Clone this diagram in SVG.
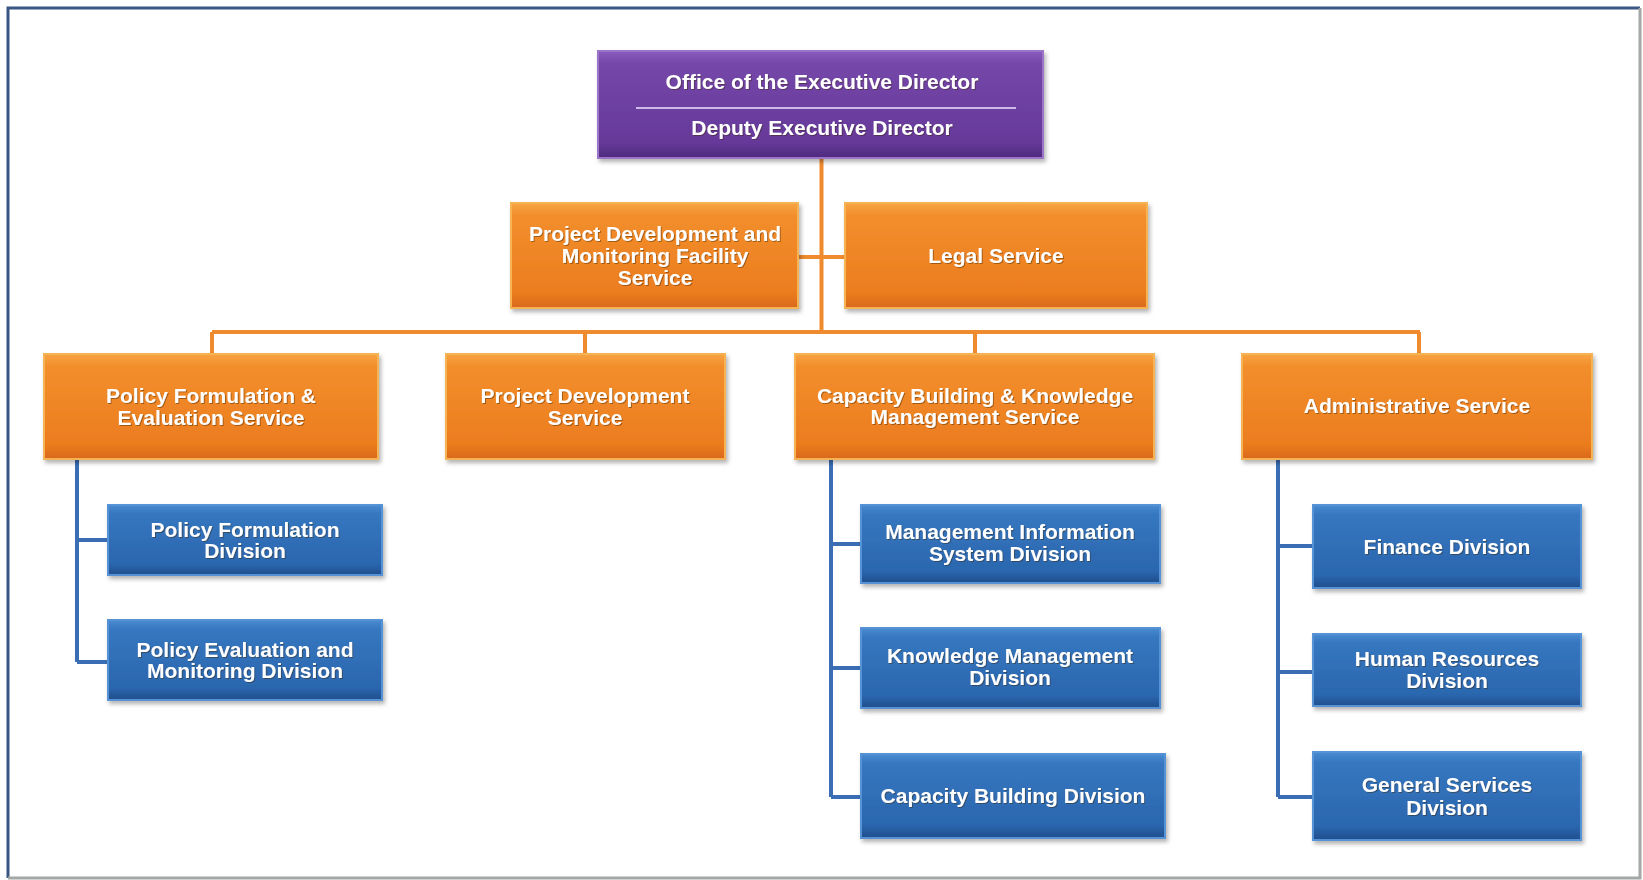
<svg xmlns="http://www.w3.org/2000/svg" width="1643" height="880" viewBox="0 0 1643 880">
<defs>
  <linearGradient id="gOrange" x1="0" y1="0" x2="0" y2="1">
    <stop offset="0" stop-color="#F7A443"/>
    <stop offset="0.12" stop-color="#F28E2C"/>
    <stop offset="0.85" stop-color="#EC7D1F"/>
    <stop offset="1" stop-color="#D9691A"/>
  </linearGradient>
  <linearGradient id="gBlue" x1="0" y1="0" x2="0" y2="1">
    <stop offset="0" stop-color="#4A8BD0"/>
    <stop offset="0.12" stop-color="#3577C0"/>
    <stop offset="0.85" stop-color="#2B66AE"/>
    <stop offset="1" stop-color="#1F4E8C"/>
  </linearGradient>
  <linearGradient id="gPurple" x1="0" y1="0" x2="0" y2="1">
    <stop offset="0" stop-color="#8A5CBE"/>
    <stop offset="0.12" stop-color="#7447A8"/>
    <stop offset="0.85" stop-color="#66399A"/>
    <stop offset="1" stop-color="#4E2A7E"/>
  </linearGradient>
  <filter id="boxShadow" x="-10%" y="-10%" width="125%" height="135%">
    <feDropShadow dx="2" dy="3" stdDeviation="2" flood-color="#000" flood-opacity="0.3"/>
  </filter>
  <filter id="txtShadow" x="-5%" y="-20%" width="110%" height="150%">
    <feDropShadow dx="1" dy="1" stdDeviation="0.7" flood-color="#3a2000" flood-opacity="0.45"/>
  </filter>
</defs>
<style>
  .orange { fill: url(#gOrange); stroke: #F6B352; stroke-width: 2; filter: url(#boxShadow); }
  .blue { fill: url(#gBlue); stroke: #5592D6; stroke-width: 2; filter: url(#boxShadow); }
  .purple { fill: url(#gPurple); stroke: #9A74C8; stroke-width: 2; filter: url(#boxShadow); }
  .lbl { font-family: "Liberation Sans", Arial, sans-serif; font-weight: bold; font-size: 21px; fill: #FFFFFF; text-anchor: middle; filter: url(#txtShadow); }
  .oc { fill: none; stroke: #EF8A2E; stroke-width: 4; }
  .bc { fill: none; stroke: #3A6DB3; stroke-width: 4; }
</style>

<rect x="0" y="0" width="1643" height="880" fill="#FFFFFF"/>
<path d="M8 878 V8 H1640" fill="none" stroke="#3B5584" stroke-width="3"/>
<path d="M1640 8 V878 H8" fill="none" stroke="#A3A8A6" stroke-width="3"/>

<g id="connectors">
  <path class="oc" d="M821.5 158 V332"/>
  <path class="oc" d="M798 257 H845"/>
  <path class="oc" d="M212 332 H1420"/>
  <path class="oc" d="M212 332 V354 M585 332 V354 M975 332 V354 M1419 332 V354"/>
  <path class="bc" d="M77 459 V662 M77 540 H108 M77 662 H108"/>
  <path class="bc" d="M831 459 V797 M831 544 H861 M831 668 H861 M831 797 H861"/>
  <path class="bc" d="M1278 459 V797 M1278 546 H1313 M1278 672 H1313 M1278 797 H1313"/>
</g>

<g id="exec">
  <rect class="purple" x="598" y="51" width="445" height="107"/>
  <text class="lbl" x="822" y="89">Office of the Executive Director</text>
  <line x1="636" y1="108" x2="1016" y2="108" stroke="#CDB8EA" stroke-width="2"/>
  <text class="lbl" x="822" y="135">Deputy Executive Director</text>
</g>

<g id="pdmf">
  <rect class="orange" x="511" y="203" width="287" height="105"/>
  <text class="lbl" x="655" y="241">Project Development and</text>
  <text class="lbl" x="655" y="263">Monitoring Facility</text>
  <text class="lbl" x="655" y="285">Service</text>
</g>

<g id="legal">
  <rect class="orange" x="845" y="203" width="302" height="105"/>
  <text class="lbl" x="996" y="263">Legal Service</text>
</g>

<g id="pfe">
  <rect class="orange" x="44" y="354" width="334" height="105"/>
  <text class="lbl" x="211" y="403">Policy Formulation &amp;</text>
  <text class="lbl" x="211" y="425">Evaluation Service</text>
</g>

<g id="pds">
  <rect class="orange" x="446" y="354" width="279" height="105"/>
  <text class="lbl" x="585" y="403">Project Development</text>
  <text class="lbl" x="585" y="425">Service</text>
</g>

<g id="cbkm">
  <rect class="orange" x="795" y="354" width="359" height="105"/>
  <text class="lbl" x="975" y="403">Capacity Building &amp; Knowledge</text>
  <text class="lbl" x="975" y="424">Management Service</text>
</g>

<g id="admin">
  <rect class="orange" x="1242" y="354" width="350" height="105"/>
  <text class="lbl" x="1417" y="413">Administrative Service</text>
</g>

<g id="pfd">
  <rect class="blue" x="108" y="505" width="274" height="70"/>
  <text class="lbl" x="245" y="537">Policy Formulation</text>
  <text class="lbl" x="245" y="558">Division</text>
</g>

<g id="pemd">
  <rect class="blue" x="108" y="620" width="274" height="80"/>
  <text class="lbl" x="245" y="657">Policy Evaluation and</text>
  <text class="lbl" x="245" y="678">Monitoring Division</text>
</g>

<g id="mis">
  <rect class="blue" x="861" y="505" width="299" height="78"/>
  <text class="lbl" x="1010" y="539">Management Information</text>
  <text class="lbl" x="1010" y="561">System Division</text>
</g>

<g id="kmd">
  <rect class="blue" x="861" y="628" width="299" height="80"/>
  <text class="lbl" x="1010" y="663">Knowledge Management</text>
  <text class="lbl" x="1010" y="685">Division</text>
</g>

<g id="cbd">
  <rect class="blue" x="861" y="754" width="304" height="84"/>
  <text class="lbl" x="1013" y="803">Capacity Building Division</text>
</g>

<g id="fin">
  <rect class="blue" x="1313" y="505" width="268" height="83"/>
  <text class="lbl" x="1447" y="554">Finance Division</text>
</g>

<g id="hr">
  <rect class="blue" x="1313" y="634" width="268" height="72"/>
  <text class="lbl" x="1447" y="666">Human Resources</text>
  <text class="lbl" x="1447" y="688">Division</text>
</g>

<g id="gs">
  <rect class="blue" x="1313" y="752" width="268" height="88"/>
  <text class="lbl" x="1447" y="792">General Services</text>
  <text class="lbl" x="1447" y="815">Division</text>
</g>
</svg>
